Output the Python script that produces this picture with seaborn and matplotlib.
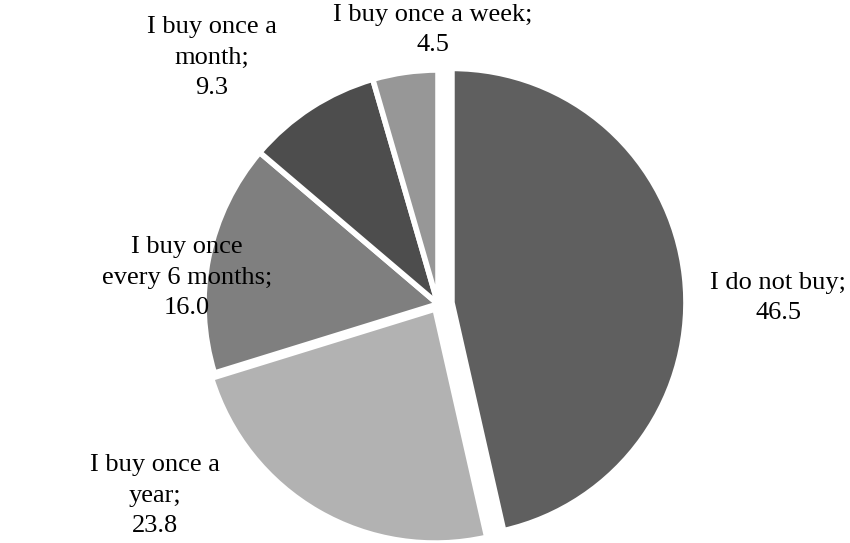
import matplotlib
matplotlib.use("Agg")
import matplotlib.pyplot as plt
import seaborn as sns

categories = ["I do not buy", "I buy once a year", "I buy once every 6 months",
              "I buy once a month", "I buy once a week"]
values = [46.5, 23.8, 16.0, 9.3, 4.5]
label_texts = ["I do not buy;\n46.5", "I buy once a\nyear;\n23.8",
               "I buy once\nevery 6 months;\n16.0", "I buy once a\nmonth;\n9.3",
               "I buy once a week;\n4.5"]
colors = ["#5f5f5f", "#b2b2b2", "#7f7f7f", "#4d4d4d", "#979797"]
explode = [0.06, 0.025, 0.0, 0.0, 0.0]

sns.set_theme(style="white")
plt.rcParams["font.family"] = ["Liberation Serif", "DejaVu Serif"]

W, H = 850, 543
fig = plt.figure(figsize=(W / 100, H / 100), dpi=100)

# pie geometry in pixels
cx, cy = 438, 543 - 304
R = 234
span = 1.3
ax = fig.add_axes([(cx - span * R) / W, (cy - span * R) / H, 2 * span * R / W, 2 * span * R / H])

wedges, _ = ax.pie(values, colors=colors, startangle=90, counterclock=False,
                   explode=explode, radius=1.0,
                   wedgeprops=dict(edgecolor="white", linewidth=4))
for w in wedges:
    w.set_clip_on(False)
ax.set_xlim(-span, span)
ax.set_ylim(-span, span)
ax.axis("off")

label_pos = [(778, 298), (155, 496), (187, 278), (212, 58), (433, 30)]
for txt, (px, py) in zip(label_texts, label_pos):
    fig.text(px / W, 1 - py / H, txt, ha="center", va="center", fontsize=19,
             color="black", linespacing=1.5, multialignment="center")

fig.savefig("out.png", dpi=100, facecolor="white")
